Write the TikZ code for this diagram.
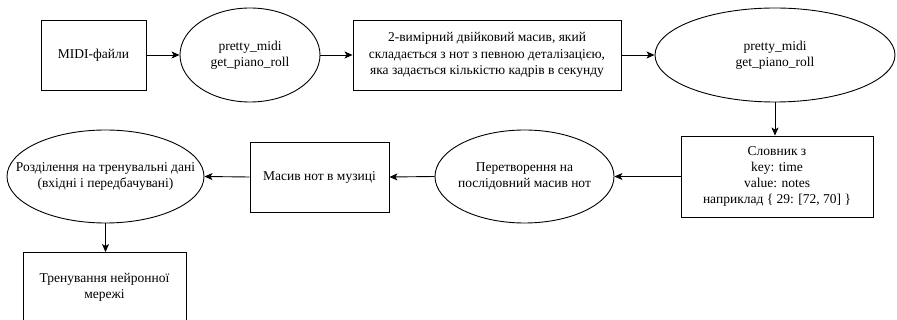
\documentclass[tikz,border=0pt]{standalone}
\usepackage{fontspec}
\setmainfont{Liberation Serif}
\usetikzlibrary{shapes.geometric,arrows.meta}
\begin{document}
\begin{tikzpicture}[x=1pt,y=-1pt,
  font=\fontsize{13.5}{16.2}\selectfont,
  rbox/.style 2 args={draw, line width=0.9pt, rectangle, minimum width=#1, minimum height=#2, inner sep=0pt, align=center},
  rell/.style 2 args={draw, line width=0.9pt, ellipse, minimum width=#1, minimum height=#2, inner sep=0pt},
  conn/.style={line width=0.9pt, -{Stealth[length=8pt,width=7pt,inset=2pt]}}]
\useasboundingbox (0,0) rectangle (897,320);
\clip (0,0) rectangle (897,320);
% row 1
\node[rbox={105}{70}] (b1) at (93.5,55) {MIDI-файли};
\node[rell={140}{94}, label={[align=center]center:{pretty\_midi\\get\_piano\_roll}}] (e1) at (250,55) {};
\node[rbox={268}{70}] (b2) at (487,55) {2-вимірний двійковий масив, який\\складається з нот з певною деталізацією,\\яка задається кількістю кадрів в секунду};
\node[rell={240}{94}, label={[align=center]center:{pretty\_midi\\get\_piano\_roll}}] (e2) at (775,55) {};
% row 2
\node[rbox={192}{81}] (b3) at (777,176.5) {Словник з\\key: time\\value: notes\\наприклад \{ 29: [72, 70] \}};
\node[rell={179}{93}, label={[align=center]center:{Перетворення на\\послідовний масив нот}}] (e3) at (524.5,176.5) {};
\node[rbox={139}{70}] (b4) at (319.5,177) {Масив нот в музиці};
\node[rell={197}{93}, label={[align=center]center:{Розділення на тренувальні дані\\(вхідні і передбачувані)}}] (e4) at (105.5,176.5) {};
% row 3
\node[rbox={163}{70}] (b5) at (104.5,287.5) {Тренування нейронної\\мережі};
% connectors
\draw[conn] (b1.east) -- (e1.west);
\draw[conn] (e1.east) -- (b2.west);
\draw[conn] (b2.east) -- (e2.west);
\draw[conn] (e2.south) -- (e2.south |- b3.north);
\draw[conn] (b3.west) -- (e3.east);
\draw[conn] (e3.west) -- (b4.east);
\draw[conn] (b4.west) -- (e4.east);
\draw[conn] (e4.south) -- (e4.south |- b5.north);
\end{tikzpicture}
\end{document}
